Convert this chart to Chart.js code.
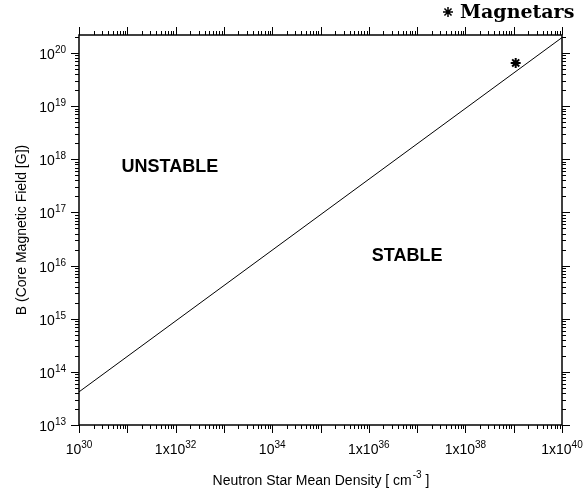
<!DOCTYPE html>
<html>
<head>
<meta charset="utf-8">
<script src="https://cdn.jsdelivr.net/npm/chart.js@4/dist/chart.umd.min.js"></script>
<style>
  html, body { margin: 0; padding: 0; background: #fff; }
  canvas { display: block; }
</style>
</head>
<body>
<canvas id="densityChart" width="583" height="497"></canvas>
<script>
// Stability limit line, B ~ rho^(2/3)
const limitDensity = [1e30, 1e40];
const limitField = [4.2e13, 1.95e20];

// Magnetars
const magnetarDensity = [1.1e39];
const magnetarField = [6.5e19];

// Axis ranges
const xMin = 1e30, xMax = 1e40;
const yMin = 1e13, yMax = 2.18e20;

// Tick labels
const xTickValues = [1e30, 1e32, 1e34, 1e36, 1e38, 1e40];
const xTickBase = ['10', '1x10', '10', '1x10', '1x10', '1x10'];
const xTickExp = ['30', '32', '34', '36', '38', '40'];
const yTickValues = [1e13, 1e14, 1e15, 1e16, 1e17, 1e18, 1e19, 1e20];
const yTickExp = ['13', '14', '15', '16', '17', '18', '19', '20'];
const minorSteps = [2, 3, 4, 5, 6, 7, 8, 9];

// Region labels
const regionText = ['UNSTABLE', 'STABLE'];
const regionDensity = [7.6e31, 6.2e36];
const regionField = [7.2e17, 1.5e16];

const SANS = '"Liberation Sans", Arial, sans-serif';

// Draw a "base^exp" label; align: 'center' or 'right'
function drawPowerLabel(ctx, base, exp, x, y, align) {
  ctx.font = '14px ' + SANS;
  const wb = ctx.measureText(base).width;
  ctx.font = '10px ' + SANS;
  const we = ctx.measureText(exp).width;
  const total = wb + we;
  const start = align === 'right' ? x - total : x - total / 2;
  ctx.textAlign = 'left';
  ctx.textBaseline = 'alphabetic';
  ctx.font = '14px ' + SANS;
  ctx.fillText(base, start, y);
  ctx.font = '10px ' + SANS;
  ctx.fillText(exp, start + wb, y - 6);
}

function decadesBetween(min, max) {
  const out = [];
  for (let e = Math.floor(Math.log10(min)); e <= Math.ceil(Math.log10(max)); e++) out.push(Math.pow(10, e));
  return out;
}

const framePlugin = {
  id: 'frame',
  afterDraw(chart) {
    const { ctx, chartArea: a, scales: { x, y } } = chart;
    ctx.save();
    ctx.strokeStyle = '#000';
    ctx.fillStyle = '#000';

    // ticks on all four sides, pointing outwards
    ctx.lineWidth = 1;
    ctx.beginPath();
    decadesBetween(xMin, xMax).forEach(d => {
      [1].concat(minorSteps).forEach(m => {
        const v = d * m;
        if (v < xMin * 0.9999 || v > xMax * 1.0001) return;
        const px = Math.round(x.getPixelForValue(v)) + 0.5;
        const len = m === 1 ? 8 : 4;
        ctx.moveTo(px, a.bottom); ctx.lineTo(px, a.bottom + len);
        ctx.moveTo(px, a.top); ctx.lineTo(px, a.top - len);
      });
    });
    decadesBetween(yMin, yMax).forEach(d => {
      [1].concat(minorSteps).forEach(m => {
        const v = d * m;
        if (v < yMin * 0.9999 || v > yMax * 1.0001) return;
        const py = Math.round(y.getPixelForValue(v)) + 0.5;
        const len = m === 1 ? 8 : 4;
        ctx.moveTo(a.left, py); ctx.lineTo(a.left - len, py);
        ctx.moveTo(a.right, py); ctx.lineTo(a.right + len, py);
      });
    });
    ctx.stroke();

    // box
    ctx.lineWidth = 1.5;
    ctx.strokeRect(a.left, a.top, a.right - a.left, a.bottom - a.top);

    // tick labels
    xTickValues.forEach((v, i) => {
      drawPowerLabel(ctx, xTickBase[i], xTickExp[i], x.getPixelForValue(v), a.bottom + 29, 'center');
    });
    yTickValues.forEach((v, i) => {
      drawPowerLabel(ctx, '10', yTickExp[i], a.left - 13, y.getPixelForValue(v) + 6, 'right');
    });

    // region labels
    ctx.font = 'bold 18px ' + SANS;
    ctx.textAlign = 'center';
    ctx.textBaseline = 'middle';
    regionText.forEach((t, i) => {
      ctx.fillText(t, x.getPixelForValue(regionDensity[i]), y.getPixelForValue(regionField[i]));
    });

    // axis titles
    ctx.font = '14px ' + SANS;
    ctx.textBaseline = 'alphabetic';
    const t1 = 'Neutron Star Mean Density [ cm', t2 = '-3', t3 = ' ]';
    const w1 = ctx.measureText(t1).width, w3 = ctx.measureText(t3).width;
    ctx.font = '10px ' + SANS;
    const w2 = ctx.measureText(t2).width;
    const cx = (a.left + a.right) / 2;
    let sx = cx - (w1 + w2 + w3) / 2;
    const ty = a.bottom + 60;
    ctx.textAlign = 'left';
    ctx.font = '14px ' + SANS;
    ctx.fillText(t1, sx, ty);
    ctx.font = '10px ' + SANS;
    ctx.fillText(t2, sx + w1 + 1, ty - 7);
    ctx.font = '14px ' + SANS;
    ctx.fillText(t3, sx + w1 + w2 + 1, ty);

    ctx.save();
    ctx.translate(26, (a.top + a.bottom) / 2);
    ctx.rotate(-Math.PI / 2);
    ctx.textAlign = 'center';
    ctx.fillText('B (Core Magnetic Field [G])', 0, 0);
    ctx.restore();

    // legend
    const ds = chart.data.datasets[1];
    Chart.helpers.drawPoint(ctx, { pointStyle: 'star', radius: 5, rotation: 0, borderWidth: 2 }, 448, 12);
    ctx.font = 'bold 19px "DejaVu Serif", serif';
    ctx.textAlign = 'left';
    ctx.fillText(ds.label, 460, 18);

    ctx.restore();
  }
};

new Chart(document.getElementById('densityChart'), {
  type: 'scatter',
  data: {
    datasets: [
      {
        label: 'Limit',
        data: limitDensity.map((d, i) => ({ x: d, y: limitField[i] })),
        showLine: true,
        borderColor: '#000',
        borderWidth: 1,
        pointRadius: 0
      },
      {
        label: 'Magnetars',
        data: magnetarDensity.map((d, i) => ({ x: d, y: magnetarField[i] })),
        pointStyle: 'star',
        pointRadius: 5,
        borderColor: '#000',
        backgroundColor: '#000',
        borderWidth: 2
      }
    ]
  },
  options: {
    responsive: false,
    animation: false,
    devicePixelRatio: 1,
    layout: { padding: { left: 79, right: 21, top: 35, bottom: 72 } },
    scales: {
      x: { type: 'logarithmic', min: xMin, max: xMax, display: false },
      y: { type: 'logarithmic', min: yMin, max: yMax, display: false }
    },
    plugins: {
      legend: { display: false },
      tooltip: { enabled: false }
    }
  },
  plugins: [framePlugin]
});
</script>
</body>
</html>
